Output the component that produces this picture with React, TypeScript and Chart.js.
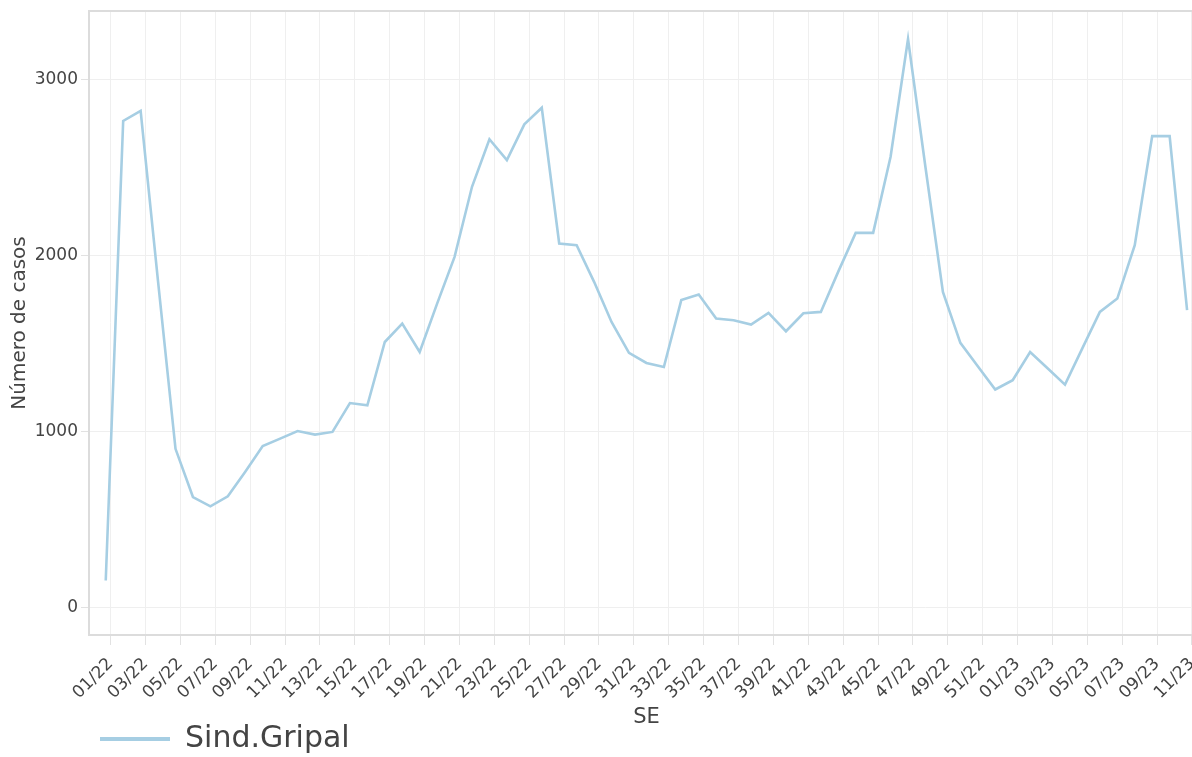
import React, { useEffect, useRef } from 'react';
import { Chart, registerables } from 'chart.js';

Chart.register(...registerables);

const weeks: string[] = [
  '01/22', '02/22', '03/22', '04/22', '05/22', '06/22', '07/22', '08/22', '09/22', '10/22',
  '11/22', '12/22', '13/22', '14/22', '15/22', '16/22', '17/22', '18/22', '19/22', '20/22',
  '21/22', '22/22', '23/22', '24/22', '25/22', '26/22', '27/22', '28/22', '29/22', '30/22',
  '31/22', '32/22', '33/22', '34/22', '35/22', '36/22', '37/22', '38/22', '39/22', '40/22',
  '41/22', '42/22', '43/22', '44/22', '45/22', '46/22', '47/22', '48/22', '49/22', '50/22',
  '51/22', '52/22', '01/23', '02/23', '03/23', '04/23', '05/23', '06/23', '07/23', '08/23',
  '09/23', '10/23', '11/23',
];

const casos: number[] = [
  152, 2763, 2820, 1850, 900, 626, 573, 630, 770, 916,
  958, 1001, 981, 996, 1160, 1147, 1507, 1612, 1450, 1725,
  1991, 2389, 2659, 2541, 2744, 2838, 2067, 2057, 1849, 1621,
  1445, 1388, 1365, 1745, 1777, 1640, 1631, 1606, 1672, 1568,
  1670, 1678, 1907, 2127, 2127, 2560, 3229, 2500, 1792, 1502,
  1369, 1237, 1290, 1450, 1358, 1265, 1472, 1678, 1754, 2057,
  2677, 2677, 1688,
];

const yTickValues: number[] = [0, 1000, 2000, 3000];
const xTickLabels: string[] = weeks.filter((_, i) => i % 2 === 0);
const TICK_SHIFT = 0.28;

const LINE_COLOR = '#a6cee3';
const TEXT_COLOR = '#444444';
const GRID_COLOR = '#efefef';
const BORDER_COLOR = '#dcdcdc';

export default function App() {
  const ref = useRef<HTMLCanvasElement | null>(null);

  useEffect(() => {
    const canvas = ref.current;
    if (!canvas) return;

    const topBorder = {
      id: 'topBorder',
      afterDraw(chart: any) {
        const { ctx, chartArea } = chart;
        ctx.save();
        ctx.strokeStyle = BORDER_COLOR;
        ctx.lineWidth = 2;
        ctx.beginPath();
        ctx.moveTo(chartArea.left - 1, chartArea.top);
        ctx.lineTo(chartArea.right, chartArea.top);
        ctx.stroke();
        ctx.restore();
      },
    };

    const chart = new Chart(canvas, {
      type: 'line',
      data: {
        datasets: [
          {
            label: 'Sind.Gripal',
            data: casos.map((v, i) => ({ x: i, y: v })),
            borderColor: LINE_COLOR,
            backgroundColor: LINE_COLOR,
            borderWidth: 2.6,
            pointRadius: 0,
            pointHoverRadius: 0,
            pointStyle: 'line',
            tension: 0,
            fill: false,
          },
        ],
      },
      options: {
        animation: false,
        responsive: false,
        devicePixelRatio: 1,
        layout: { padding: { top: 11, left: 0, right: 0, bottom: 0 } },
        scales: {
          x: {
            type: 'linear',
            min: -0.96,
            max: 62.97,
            afterBuildTicks: (s: any) => {
              s.ticks = xTickLabels.map((_, k) => ({ value: 2 * k + TICK_SHIFT }));
            },
            afterFit: (s: any) => {
              s.height = 78;
              s.paddingLeft = 0;
              s.paddingRight = 0;
            },
            ticks: {
              autoSkip: false,
              minRotation: 45,
              maxRotation: 45,
              padding: 9,
              color: TEXT_COLOR,
              font: { family: 'DejaVu Sans', size: 17 },
              callback: (_v: any, idx: number) => xTickLabels[idx],
            },
            grid: { color: GRID_COLOR, lineWidth: 1, tickLength: 10, tickColor: '#e2e2e2' },
            border: { display: true, color: BORDER_COLOR, width: 2 },
            title: {
              display: true,
              text: 'SE',
              color: TEXT_COLOR,
              font: { family: 'DejaVu Sans', size: 21 },
              padding: { top: 0, bottom: -17 },
            },
          },
          y: {
            type: 'linear',
            min: -158,
            max: 3388,
            afterBuildTicks: (s: any) => {
              s.ticks = yTickValues.map((v) => ({ value: v }));
            },
            afterFit: (s: any) => {
              s.width = 89;
              s.paddingTop = 0;
              s.paddingBottom = 0;
            },
            ticks: {
              padding: 3,
              color: TEXT_COLOR,
              font: { family: 'DejaVu Sans', size: 17 },
              callback: (v: any) => String(v),
            },
            grid: { color: GRID_COLOR, lineWidth: 1, tickLength: 8, tickColor: '#e2e2e2' },
            border: { display: true, color: BORDER_COLOR, width: 2 },
            title: {
              display: true,
              text: 'Número de casos',
              color: TEXT_COLOR,
              font: { family: 'DejaVu Sans', size: 20 },
              padding: { top: 8, bottom: 0 },
            },
          },
        },
        plugins: {
          tooltip: { enabled: false },
          legend: {
            display: true,
            position: 'bottom',
            align: 'start',
            fullSize: false,
            labels: {
              usePointStyle: true,
              pointStyleWidth: 70,
              padding: 11,
              color: TEXT_COLOR,
              font: { family: 'DejaVu Sans', size: 30 },
              generateLabels: (c: any) => {
                const items = Chart.defaults.plugins.legend.labels.generateLabels(c);
                return items.map((it: any) => ({ ...it, lineWidth: 4, pointStyle: 'line', strokeStyle: LINE_COLOR }));
              },
            },
          },
        },
      } as any,
      plugins: [topBorder],
    });

    return () => chart.destroy();
  }, []);

  return (
    <div
      style={{
        position: 'fixed',
        left: 0,
        top: 0,
        width: 1192,
        height: 757,
        overflow: 'hidden',
        background: '#ffffff',
      }}
    >
      <canvas ref={ref} width={1204} height={764} style={{ display: 'block', width: 1204, height: 764 }} />
    </div>
  );
}
